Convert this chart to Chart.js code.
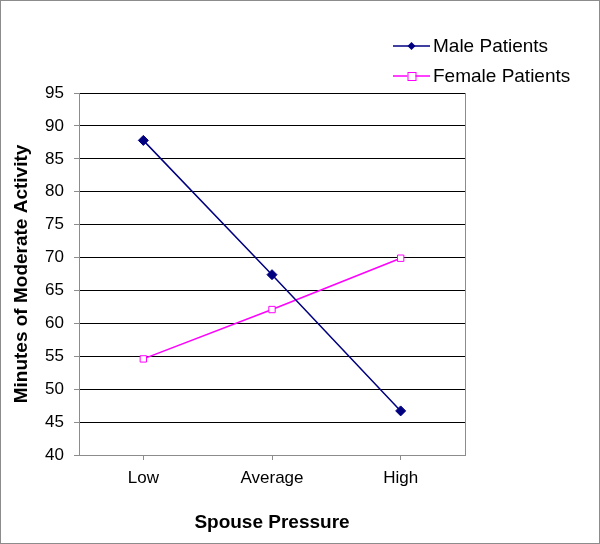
<!DOCTYPE html>
<html lang="en">
<head>
  <meta charset="UTF-8" />
  <title>Minutes of Moderate Activity by Spouse Pressure</title>
  <script src="https://cdn.jsdelivr.net/npm/chart.js"></script>
  <style>
    body { margin: 0; background: #fff; }
    .wrap { position: relative; width: 600px; height: 544px; }
    .frame { position: absolute; inset: 0; border: 1px solid #8c8c8c; pointer-events: none; }
  </style>
</head>
<body>
  <div class="wrap">
    <canvas id="chart" width="600" height="544"></canvas>
    <div class="frame"></div>
  </div>
  <script>
    const categories = ['Low', 'Average', 'High'];
    const maleValues = [87.8, 67.4, 46.7];
    const femaleValues = [54.6, 62.1, 69.9];
    const yTicks = { min: 40, max: 95, step: 5 };

    const font = 'Liberation Sans, Arial, sans-serif';

    // legend drawn as line + marker, like the original spreadsheet chart
    const lineLegend = {
      id: 'lineLegend',
      afterDraw(chart) {
        const ctx = chart.ctx;
        const x0 = 393, x1 = 430, tx = 433;
        const rows = [46, 76];
        chart.data.datasets.forEach((ds, i) => {
          const y = rows[i];
          ctx.save();
          ctx.strokeStyle = ds.borderColor;
          ctx.lineWidth = 1.5;
          ctx.beginPath(); ctx.moveTo(x0, y); ctx.lineTo(x1, y); ctx.stroke();
          const mx = (x0 + x1) / 2;
          if (ds.pointStyle === 'rectRot') {
            ctx.fillStyle = ds.borderColor;
            ctx.beginPath();
            ctx.moveTo(mx, y - 4); ctx.lineTo(mx + 4, y); ctx.lineTo(mx, y + 4); ctx.lineTo(mx - 4, y);
            ctx.closePath(); ctx.fill();
          } else {
            ctx.fillStyle = '#fff';
            ctx.fillRect(mx - 4, y - 4, 8, 8);
            ctx.lineWidth = 1;
            ctx.strokeRect(mx - 3.5, y - 3.5, 8, 8);
          }
          ctx.fillStyle = '#000';
          ctx.font = '19px ' + font;
          ctx.textBaseline = 'middle';
          ctx.fillText(ds.label, tx, y + 1);
          ctx.restore();
        });
      }
    };

    // right edge of the plot box (left and bottom come from the axes)
    const plotFrame = {
      id: 'plotFrame',
      beforeDatasetsDraw(chart) {
        const a = chart.chartArea, ctx = chart.ctx;
        const x = Math.round(a.right) + 0.5;
        ctx.save();
        ctx.strokeStyle = '#8c8c8c';
        ctx.lineWidth = 1;
        ctx.beginPath(); ctx.moveTo(x, a.top); ctx.lineTo(x, a.bottom); ctx.stroke();
        ctx.restore();
      }
    };

    new Chart(document.getElementById('chart'), {
      type: 'line',
      data: {
        labels: categories,
        datasets: [
          {
            label: 'Male Patients',
            data: maleValues,
            borderColor: '#000080',
            backgroundColor: '#000080',
            borderWidth: 1.5,
            pointStyle: 'rectRot',
            pointRadius: 5,
            pointBorderWidth: 1,
            tension: 0
          },
          {
            label: 'Female Patients',
            data: femaleValues,
            borderColor: '#ff00ff',
            backgroundColor: '#ffffff',
            borderWidth: 1.5,
            pointStyle: 'rect',
            pointRadius: 4.5,
            pointBorderWidth: 1,
            tension: 0
          }
        ]
      },
      plugins: [plotFrame, lineLegend],
      options: {
        responsive: false,
        animation: false,
        layout: { padding: { top: 93, right: 135, left: 0, bottom: 0 } },
        plugins: {
          legend: { display: false },
          tooltip: { enabled: false }
        },
        scales: {
          x: {
            offset: true,
            afterFit: s => { s.height = 89; },
            grid: {
              display: true, drawOnChartArea: false, offset: false,
              tickLength: 5, tickColor: '#8c8c8c', color: '#8c8c8c'
            },
            border: { color: '#8c8c8c' },
            ticks: { color: '#000', font: { family: font, size: 17 }, padding: 8 },
            title: {
              display: true, text: 'Spouse Pressure', color: '#000',
              font: { family: font, size: 19, weight: 'bold' },
              padding: { top: 0, bottom: 10 }
            }
          },
          y: {
            min: yTicks.min,
            max: yTicks.max,
            afterFit: s => { s.width = 79; },
            grid: { color: '#000', lineWidth: 1, tickLength: 5, tickColor: '#8c8c8c' },
            border: { color: '#8c8c8c' },
            ticks: {
              stepSize: yTicks.step, color: '#000',
              font: { family: font, size: 17 }, padding: 10
            },
            title: {
              display: true, text: 'Minutes of Moderate Activity', color: '#000',
              font: { family: font, size: 19, weight: 'bold' },
              padding: { top: 10, bottom: 0 }
            }
          }
        }
      }
    });
  </script>
</body>
</html>
